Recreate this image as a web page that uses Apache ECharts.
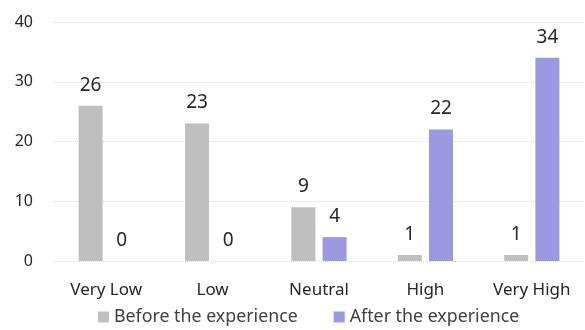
<!DOCTYPE html>
<html>
<head>
<meta charset="utf-8">
<script src="https://cdn.jsdelivr.net/npm/echarts@6/dist/echarts.min.js"></script>
<style>
  html, body { margin: 0; padding: 0; background: #fff; }
  #chart { width: 585px; height: 330px; }
</style>
</head>
<body>
<div id="chart"></div>
<script>
// Survey responses, before vs. after the experience
const categories = ['Very Low', 'Low', 'Neutral', 'High', 'Very High'];
const beforeValues = [26, 23, 9, 1, 1];
const afterValues = [0, 0, 4, 22, 34];
const seriesNames = ['Before the experience', 'After the experience'];
const yTicks = { min: 0, max: 40, interval: 10 };

const FONT = '"Noto Sans", "Open Sans", sans-serif';
const chart = echarts.init(document.getElementById('chart'), null, { renderer: 'canvas' });

const labelStyle = {
  show: true,
  position: 'top',
  distance: 11,
  color: '#262626',
  fontSize: 19,
  fontFamily: FONT
};

chart.setOption({
  animation: false,
  textStyle: { fontFamily: FONT },
  grid: { left: 53, right: 0, top: 22, bottom: 69 },
  legend: {
    bottom: -1,
    left: 93,
    itemWidth: 11,
    itemHeight: 11,
    itemGap: 36,
    icon: 'rect',
    textStyle: { color: '#404040', fontSize: 17.8, fontFamily: FONT },
    data: seriesNames
  },
  xAxis: {
    type: 'category',
    data: categories,
    axisLine: { show: false },
    axisTick: { show: false },
    axisLabel: { color: '#262626', fontSize: 17, margin: 21, fontFamily: FONT }
  },
  yAxis: {
    type: 'value',
    min: yTicks.min,
    max: yTicks.max,
    interval: yTicks.interval,
    axisLine: { show: false },
    axisTick: { show: false },
    axisLabel: { color: '#262626', fontSize: 16, margin: 20, fontFamily: FONT },
    splitLine: { lineStyle: { color: '#dcdcdc', width: 1, type: 'dotted' } }
  },
  series: [
    {
      name: seriesNames[0],
      type: 'bar',
      data: beforeValues,
      barWidth: 24,
      barGap: '30%',
      itemStyle: { color: '#bfbfbf' },
      label: labelStyle
    },
    {
      name: seriesNames[1],
      type: 'bar',
      data: afterValues,
      barWidth: 24,
      itemStyle: { color: '#9c98e2' },
      label: labelStyle
    }
  ]
});
</script>
</body>
</html>
